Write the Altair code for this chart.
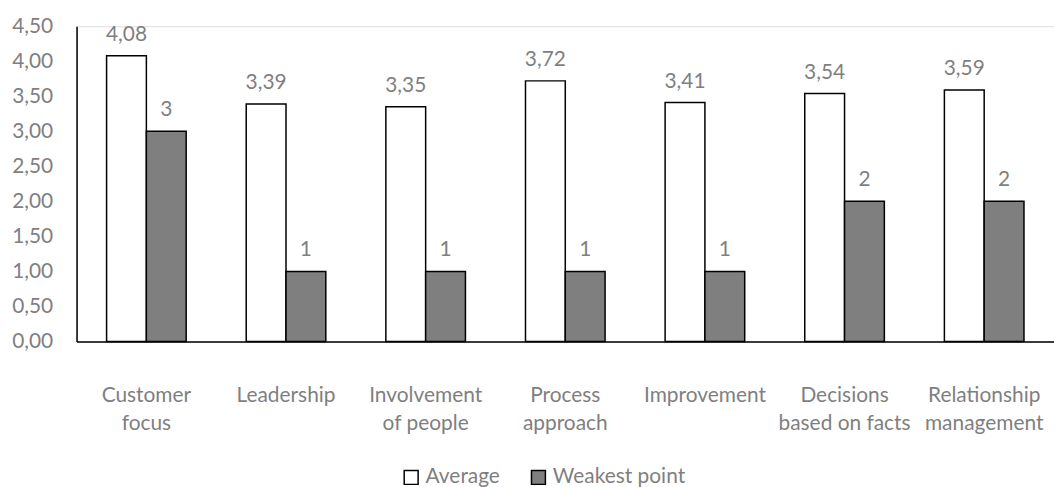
import altair as alt
import pandas as pd

categories = ["Customer focus", "Leadership", "Involvement of people", "Process approach",
              "Improvement", "Decisions based on facts", "Relationship management"]
average = [4.08, 3.39, 3.35, 3.72, 3.41, 3.54, 3.59]
weakest = [3, 1, 1, 1, 1, 2, 2]
series = ["Average", "Weakest point"]
y_ticks = [0, 0.5, 1, 1.5, 2, 2.5, 3, 3.5, 4, 4.5]

rows = []
for c, a, w in zip(categories, average, weakest):
    rows.append({"category": c, "series": "Average", "value": a,
                 "label": f"{a:.2f}".replace(".", ",")})
    rows.append({"category": c, "series": "Weakest point", "value": w,
                 "label": f"{w:g}"})
df = pd.DataFrame(rows)

GRAY = "#7f7f7f"
FONT = "Lato"
FS = 21

x = alt.X("category:N", sort=categories, title=None,
          scale=alt.Scale(paddingInner=0.43, paddingOuter=0.215),
          axis=alt.Axis(labelAngle=0, ticks=False, domainColor="black", domainWidth=1.5,
                        labelColor=GRAY, labelFont=FONT, labelFontSize=FS,
                        labelPadding=43, labelLineHeight=29, labelLimit=300,
                        labelExpr="indexof(datum.label,' ')>0 ? [slice(datum.label,0,indexof(datum.label,' ')), slice(datum.label,indexof(datum.label,' ')+1)] : datum.label"))
xo = alt.XOffset("series:N", sort=series)
y = alt.Y("value:Q", title=None,
          scale=alt.Scale(domain=[0, 4.5], nice=False),
          axis=alt.Axis(values=y_ticks, grid=False, ticks=False, domainColor="black",
                        domainWidth=1.5, labelColor=GRAY, labelFont=FONT, labelFontSize=FS,
                        labelPadding=24,
                        labelExpr="replace(format(datum.value,'.2f'),'.',',')"))

bars = alt.Chart(df).mark_bar(stroke="black", strokeWidth=1.5).encode(
    x=x, xOffset=xo, y=y,
    fill=alt.Fill("series:N", sort=series,
                  scale=alt.Scale(domain=series, range=["white", GRAY]),
                  legend=alt.Legend(title=None, orient="none", direction="horizontal",
                                    legendX=326, legendY=443, symbolType="square",
                                    symbolSize=196, symbolStrokeColor="black",
                                    symbolStrokeWidth=1.5, labelFont=FONT,
                                    labelFontSize=FS, labelColor=GRAY,
                                    columnPadding=28, labelOffset=4)),
)

text = alt.Chart(df).mark_text(baseline="alphabetic", dy=-15, font=FONT, fontSize=FS,
                               color=GRAY).encode(
    x=x, xOffset=xo, y=y, text="label:N")

chart = alt.layer(bars, text).properties(
    width=983, height=317,
    autosize=alt.AutoSizeParams(type="none"),
    padding={"left": 77, "top": 25, "right": 0, "bottom": 145},
).configure_view(stroke=None).configure(background="white")

chart.save("out.html", embed_options={"renderer": "svg", "actions": False})
